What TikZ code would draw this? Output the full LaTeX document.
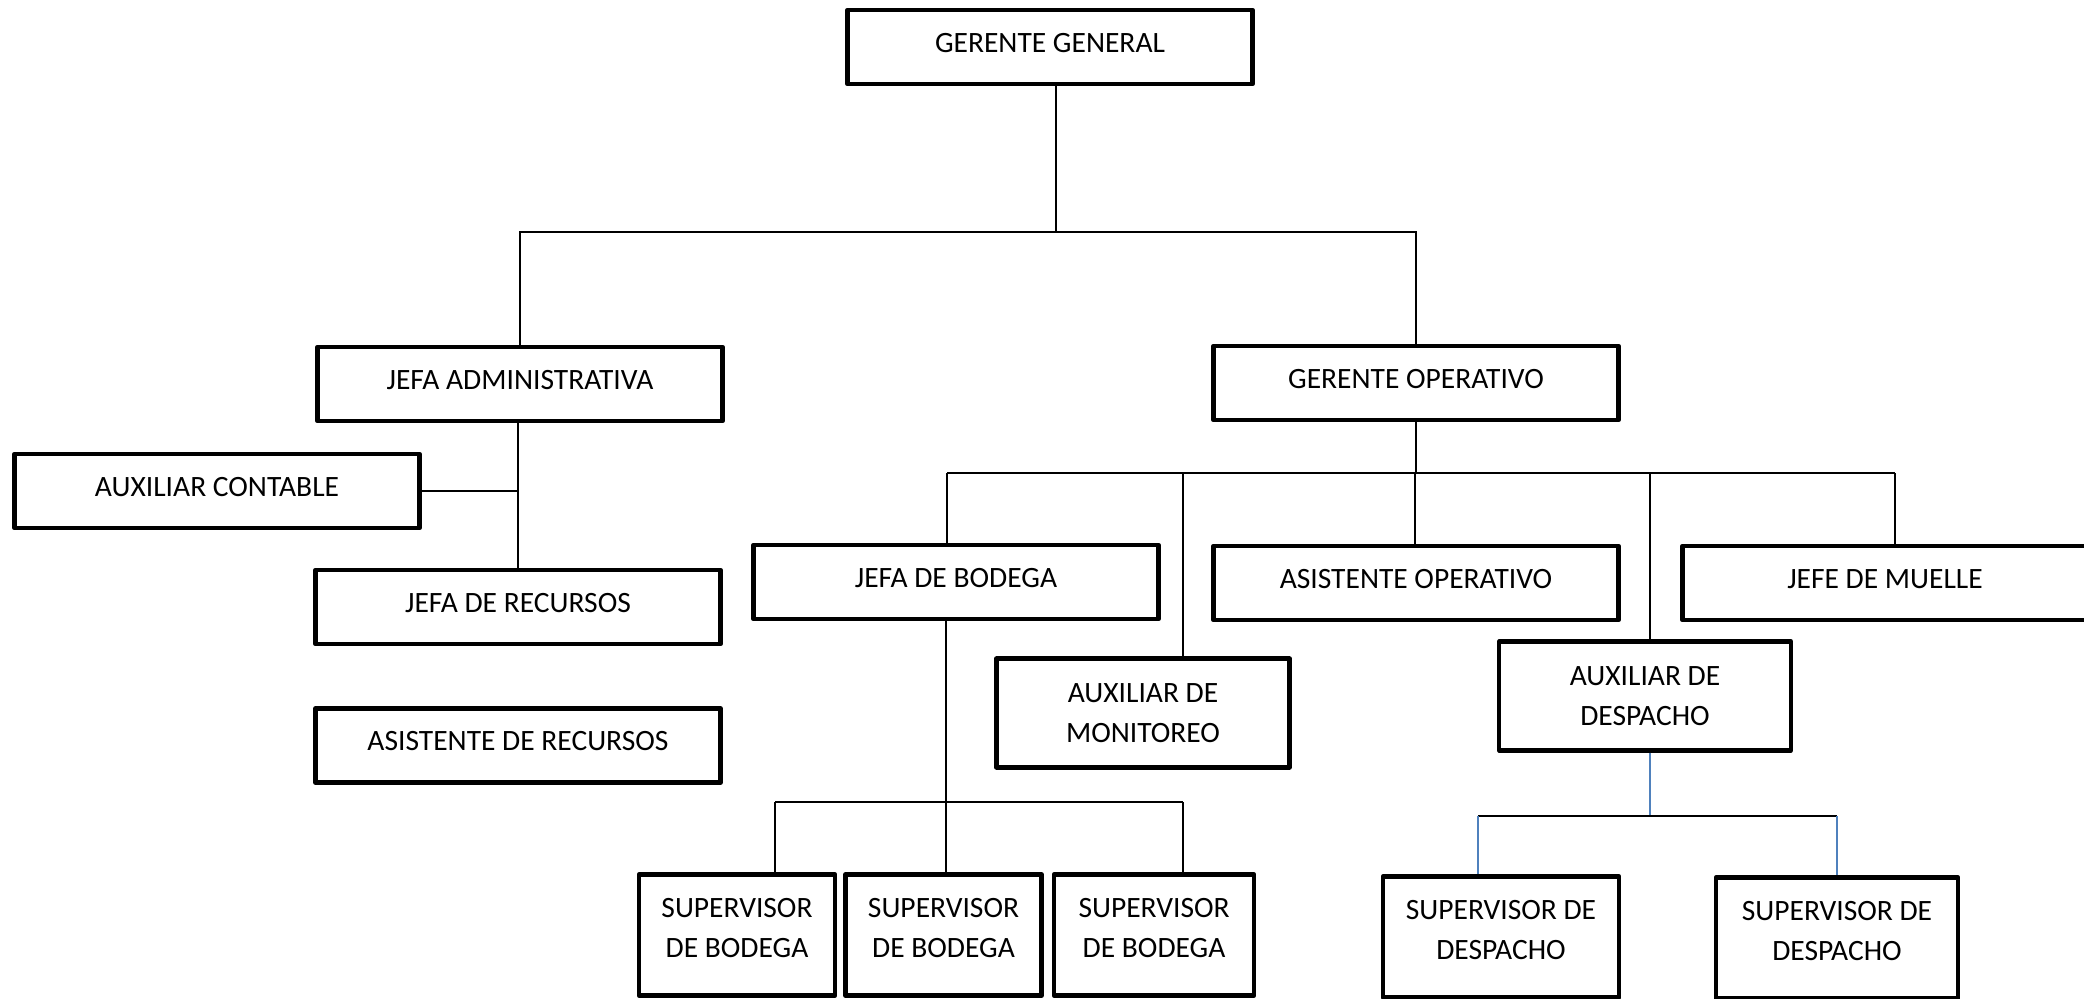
\documentclass[tikz,border=0pt]{standalone}
\usepackage{fontspec}
\setmainfont{Carlito}
\usepackage{xcolor}
\usepackage{tikz}
\usetikzlibrary{positioning}
\definecolor{linkblue}{RGB}{79,129,189}
\tikzset{
    box_style/.style={
        rectangle,            % 矩形框
        draw=black,           % 边框颜色
        line width=2.6pt,     % 边框加粗
        line join=round,      % 圆角连接
        fill=white,           % 填充颜色
        align=center,         % 多行文字居中
        minimum width=8.1cm,  % 默认宽度
        minimum height=1.48cm,% 默认高度
        inner sep=2pt,
        text depth=5pt,       % 文字稍微偏上
        font=\fontsize{16.8}{23}\selectfont % 节点文字字体
    },
    tall_box/.style={
        box_style,
        minimum width=#1,
        minimum height=2.17cm,
        text depth=           % 两行文字居中
    },
    sup_box/.style={
        box_style,
        minimum width=#1,
        minimum height=2.42cm,
        text depth=8pt
    },
    line_style/.style={
        draw=black,           % 连线颜色
        line width=0.85pt     % 细线
    },
    blue_line_style/.style={
        line_style,
        draw=linkblue         % 蓝色连线
    }
}

\begin{document}
\begin{tikzpicture}[x=0.02cm, y=-0.02cm] % 1 单位 = 1 像素, y 向下
    % 0. 画布范围
    \useasboundingbox (0,0) rectangle (2084,999);
    \clip (0,0) rectangle (2084,999);

    % 1. 定义节点位置
    \node[box_style] (gg) at (1050,47) {GERENTE GENERAL};
    \node[box_style] (ja) at (520,384) {JEFA ADMINISTRATIVA};
    \node[box_style] (go) at (1416,383) {GERENTE OPERATIVO};
    \node[box_style] (ac) at (217,491) {AUXILIAR CONTABLE};
    \node[box_style] (jr) at (518,607) {JEFA DE RECURSOS};
    \node[box_style, below=1.2cm of jr] (ar) {ASISTENTE DE RECURSOS}; % 在 jr 的下面
    \node[box_style] (jb) at (956,582) {JEFA DE BODEGA};
    \node[box_style] (ao) at (1416,583) {ASISTENTE OPERATIVO};
    \node[box_style] (jm) at (1885,583) {JEFE DE MUELLE};
    \node[tall_box=5.86cm] (am) at (1143,713) {AUXILIAR DE\\MONITOREO};
    \node[tall_box=5.84cm] (ad) at (1645,696) {AUXILIAR DE\\DESPACHO};
    \node[sup_box=3.92cm] (sb1) at (737,935) {SUPERVISOR\\DE BODEGA};
    \node[sup_box=3.92cm, right=0.12cm of sb1] (sb2) {SUPERVISOR\\DE BODEGA}; % 在 sb1 的右边
    \node[sup_box=4.0cm, right=0.16cm of sb2] (sb3) {SUPERVISOR\\DE BODEGA};  % 在 sb2 的右边
    \node[sup_box=4.72cm] (sd1) at (1501,937) {SUPERVISOR DE\\DESPACHO};
    \node[sup_box=4.84cm] (sd2) at (1837,938) {SUPERVISOR DE\\DESPACHO};

    % 2. 汇流点
    \coordinate (bus_gg) at (1056,232);
    \coordinate (d_jb) at (947,473);
    \coordinate (d_am) at (1183,473);
    \coordinate (d_ao) at (1415,473);
    \coordinate (d_ad) at (1650,473);
    \coordinate (d_jm) at (1895,473);
    \coordinate (b_l) at (775,802);
    \coordinate (b_m) at (946,802);
    \coordinate (b_r) at (1183,802);
    \coordinate (s_l) at (1478,816);
    \coordinate (s_m) at (1650,816);
    \coordinate (s_r) at (1837,816);

    % 3. 绘制连线
    \draw[line_style] (gg.south -| bus_gg) -- (bus_gg);
    \draw[line_style] (ja.north) |- (bus_gg) -| (go.north);
    \draw[line_style] (jr.north) -- (jr.north |- ja.south);
    \draw[line_style] (ac.east) -- (ac.east -| jr.north);

    \draw[line_style] (go.south) -- (go.south |- d_jb);
    \draw[line_style] (d_jb) -- (d_jm);
    \foreach \d/\n in {d_jb/jb, d_am/am, d_ao/ao, d_ad/ad, d_jm/jm}
        \draw[line_style] (\d) -- (\d |- \n.north);

    \draw[line_style] (jb.south -| b_m) -- (sb2.north -| b_m);
    \draw[line_style] (b_l) -- (b_r);
    \draw[line_style] (b_l) -- (b_l |- sb1.north);
    \draw[line_style] (b_r) -- (b_r |- sb3.north);

    \draw[blue_line_style] (ad.south -| s_m) -- (s_m);
    \draw[line_style] (s_l) -- (s_r);
    \draw[blue_line_style] (s_l) -- (s_l |- sd1.north);
    \draw[blue_line_style] (s_r) -- (s_r |- sd2.north);
\end{tikzpicture}
\end{document}
